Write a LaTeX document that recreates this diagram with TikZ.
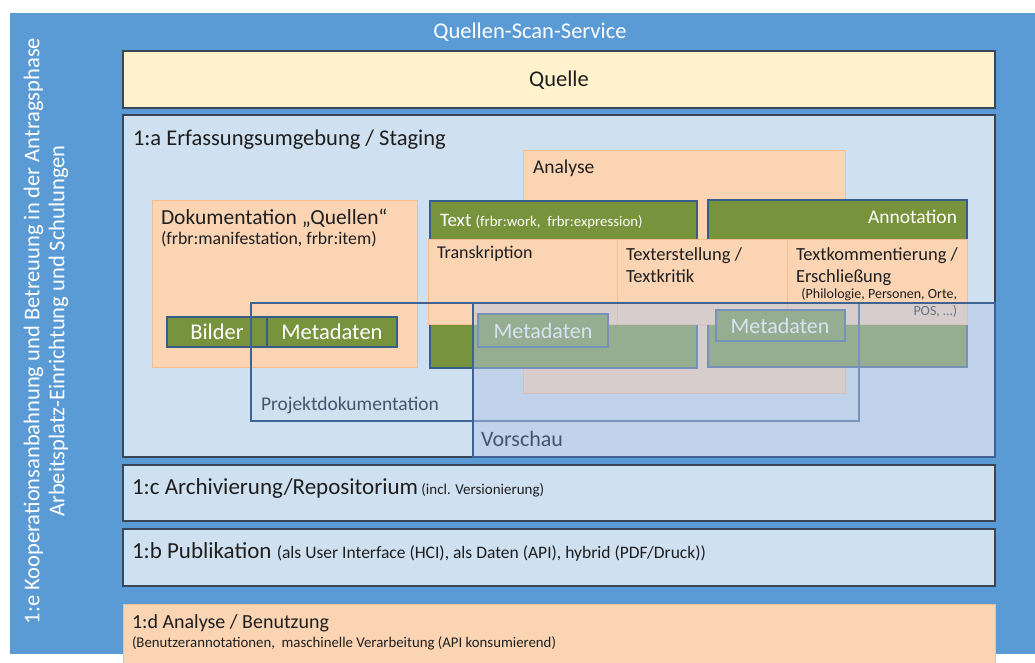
\documentclass[tikz,border=0pt]{standalone}
\usepackage{fontspec}
\setmainfont{Carlito}
\usetikzlibrary{fit}
\definecolor{outerblue}{HTML}{5B9BD5}
\definecolor{quellefill}{HTML}{FFF2CC}
\definecolor{layerfill}{HTML}{CFE0F1}
\definecolor{layerdraw}{HTML}{3A4656}
\definecolor{peach}{HTML}{FBD4B4}
\definecolor{peachdraw}{HTML}{F6BE8E}
\definecolor{grn}{HTML}{77933C}
\definecolor{grndraw}{HTML}{385D8A}
\definecolor{projblue}{HTML}{3D6293}
\definecolor{vorfill}{HTML}{B4C7E7}
\definecolor{labelgray}{HTML}{44546A}
\definecolor{txt}{HTML}{1E1E1E}
\newcommand\fsz[2]{\fontsize{#1}{#2}\selectfont}
\tikzset{
  rect/.style={inner sep=0pt, outer sep=0pt},
  layerbox/.style={rect, draw=layerdraw, line width=1.1pt, fill=layerfill},
  quellebox/.style={rect, draw=layerdraw, line width=1.1pt, fill=quellefill},
  peachbox/.style={rect, draw=peachdraw, line width=0.9pt, fill=peach},
  greenbox/.style={rect, draw=grndraw, line width=1.6pt, fill=grn},
  framebox/.style={rect, draw=projblue, line width=1.6pt},
  vorbox/.style={rect, draw=projblue, line width=1.6pt, fill=vorfill, fill opacity=0.5},
  lbl/.style={inner sep=0pt, outer sep=0pt, anchor=base west, text=txt},
  wlbl/.style={inner sep=0pt, outer sep=0pt, anchor=base, text=white},
}
\begin{document}
\begin{tikzpicture}[x=1pt,y=-1pt]
\clip (0,0) rectangle (1035,662);
\fill[white] (0,0) rectangle (1035,662);
% outer frame
\node[rect, fill=outerblue, fit={(10,13) (1040,654)}] (outer) {};
\node[wlbl, font=\fsz{22.5}{27}] (title) at (530,38) {Quellen-Scan-Service};
\node[wlbl, rotate=90, anchor=center, align=center, font=\fsz{22.5}{25}] (side) at (46,331)
  {1:e Kooperationsanbahnung und Betreuung in der Antragsphase\\Arbeitsplatz-Einrichtung und Schulungen};
% layers
\node[quellebox, fit={(123,51) (995,108)}] (quelle) {};
\node[lbl, anchor=base, font=\fsz{22.5}{27}] (quellelbl) at (559,86) {Quelle};
\node[layerbox, fit={(123,115) (995,457)}] (staging) {};
\node[lbl, font=\fsz{22.5}{27}] (staginglbl) at (133,145) {1:a Erfassungsumgebung / Staging};
\node[layerbox, fit={(123,465) (995,521)}] (archiv) {};
\node[lbl, font=\fsz{23}{27}] (archivlbl) at (132,494) {1:c Archivierung/Repositorium{\fsz{15}{18} (incl. Versionierung)}};
\node[layerbox, fit={(123,529) (995,586)}] (publ) {};
\node[lbl, font=\fsz{23}{27}] (publlbl) at (132,558) {1:b Publikation {\fsz{17.5}{20}(als User Interface (HCI), als Daten (API), hybrid (PDF/Druck))}};
\node[peachbox, fit={(123,604) (995,675)}] (benutz) {};
\node[lbl, font=\fsz{20}{24}] (benutzlbl) at (132,628) {1:d Analyse / Benutzung};
\node[lbl, font=\fsz{14.8}{17}] (benutzsub) at (132,647) {(Benutzerannotationen,\ \ maschinelle Verarbeitung (API konsumierend)};
% Dokumentation
\node[peachbox, fit={(152,200) (417,367)}] (doku) {};
\node[lbl, font=\fsz{21.5}{25}] (dokulbl) at (161,224) {Dokumentation „Quellen“};
\node[lbl, font=\fsz{17.8}{21}] (dokusub) at (161,244) {(frbr:manifestation, frbr:item)};
\node[greenbox, fit={(167,317) (267,347)}] (bilder) {};
\node[wlbl, font=\fsz{22.5}{27}] (bilderlbl) at (217,339) {Bilder};
\node[greenbox, fit={(267,317) (397,347)}] (meta1) {};
\node[wlbl, font=\fsz{22.5}{27}] (meta1lbl) at (332,339) {Metadaten};
% Analyse
\node[peachbox, fit={(523,150) (845,393)}] (analyse) {};
\node[lbl, font=\fsz{19.5}{23}] (analyselbl) at (533,173) {Analyse};
\node[greenbox, fit={(430,201) (697,368)}] (text) {};
\node[lbl, text=white, font=\fsz{19}{23}] (textlbl) at (440,226) {Text {\fsz{14.8}{17}(frbr:work,\ \ frbr:expression)}};
\node[greenbox, fit={(708,200) (967,367)}] (annot) {};
\node[lbl, text=white, anchor=base east, font=\fsz{19.5}{23}] (annotlbl) at (957,223) {Annotation};
\node[peachbox, fit={(428,239) (617,324)}] (transk) {};
\node[lbl, font=\fsz{18}{22}] (transklbl) at (437,258) {Transkription};
\node[peachbox, fit={(617,239) (787,324)}] (texterst) {};
\node[lbl, align=left, font=\fsz{18.5}{22}] (texterstlbl) at (626,282) {Texterstellung /\\Textkritik};
\node[peachbox, fit={(787,239) (967,324)}] (textkomm) {};
\node[lbl, align=left, font=\fsz{18.5}{22}] (textkommlbl) at (796,282) {Textkommentierung /\\Erschließung};
\node[lbl, anchor=base east, align=right, font=\fsz{14}{17}] (textkommsub) at (957,315) {(Philologie, Personen, Orte,\\POS, …)};
\node[greenbox, fit={(478,314) (608,347)}] (meta2) {};
\node[wlbl, font=\fsz{22}{26}] (meta2lbl) at (543,338) {Metadaten};
\node[greenbox, fit={(716,310) (845,341)}] (meta3) {};
\node[wlbl, font=\fsz{22}{26}] (meta3lbl) at (780,333) {Metadaten};
% Projektdokumentation frame
\node[framebox, fit={(251,303) (859,421)}] (projekt) {};
\node[lbl, text=labelgray, font=\fsz{19.5}{23}] (projektlbl) at (261,410) {Projektdokumentation};
% Vorschau overlay
\node[vorbox, fit={(473,303) (995,457)}] (vorschau) {};
\node[lbl, text=labelgray, font=\fsz{22}{26}] (vorschaulbl) at (481,446) {Vorschau};
\end{tikzpicture}
\end{document}
